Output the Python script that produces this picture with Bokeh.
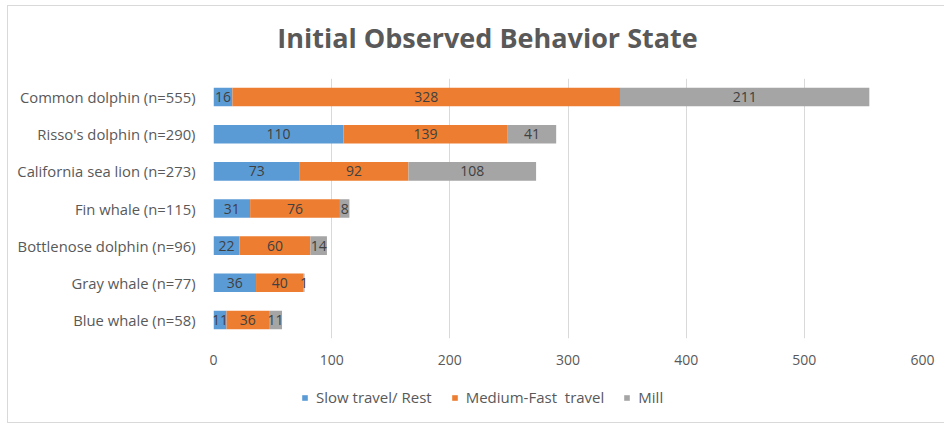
from bokeh.plotting import figure
from bokeh.layouts import column
from bokeh.models import ColumnDataSource, FactorRange, Range1d, Legend, LegendItem
from bokeh.embed import file_html
from bokeh.resources import INLINE
from bokeh.core.properties import value

title_text = "Initial Observed Behavior State"
species = ["Common dolphin (n=555)", "Risso's dolphin (n=290)", "California sea lion (n=273)",
           "Fin whale (n=115)", "Bottlenose dolphin (n=96)", "Gray whale (n=77)", "Blue whale (n=58)"]
slow_rest = [16, 110, 73, 31, 22, 36, 11]
medium_fast = [328, 139, 92, 76, 60, 40, 36]
mill = [211, 41, 108, 8, 14, 1, 11]
series_names = ["Slow travel/ Rest", "Medium-Fast  travel", "Mill"]
colors = ["#5B9BD5", "#ED7D31", "#A5A5A5"]
x_ticks = [0, 100, 200, 300, 400, 500, 600]

FONT = "Open Sans"
TXT = "#595959"

keys = ["slow", "medium", "mill"]
src = ColumnDataSource(dict(species=species, slow=slow_rest, medium=medium_fast, mill=mill))


def blank_strip(height):
    f = figure(width=937, height=height, output_backend="svg", toolbar_location=None,
               x_range=Range1d(0, 1), y_range=Range1d(0, 1), min_border=0)
    f.xaxis.visible = False
    f.yaxis.visible = False
    f.grid.grid_line_color = None
    f.outline_line_color = None
    return f


# title strip
p0 = blank_strip(72)
p0.text(x=[0.3865], y=[0.57], text=[title_text], text_align="center", text_baseline="middle",
        text_font=value(FONT), text_font_size="27px", text_font_style="bold", text_color=TXT)

# main chart
p = figure(width=937, height=298, output_backend="svg", toolbar_location=None,
           y_range=FactorRange(*reversed(species)), x_range=Range1d(0, 600),
           min_border_left=205, min_border_right=23, min_border_top=0, min_border_bottom=38)

p.hbar_stack(keys, y="species", height=0.5, color=colors, source=src, line_color=None)

# data labels centred in each segment
lab_x, lab_y, lab_t = [], [], []
for i, sp in enumerate(species):
    left = 0
    for arr in (slow_rest, medium_fast, mill):
        v = arr[i]
        lab_x.append(left + v / 2)
        lab_y.append(sp)
        lab_t.append(str(v))
        left += v
lsrc = ColumnDataSource(dict(x=lab_x, y=lab_y, t=lab_t))
p.text(x="x", y="y", text="t", source=lsrc, text_align="center", text_baseline="middle",
       text_color="#404040", text_font_size="14px", text_font=value(FONT))

p.xaxis.ticker = x_ticks
p.xaxis.axis_line_color = None
p.xaxis.major_tick_line_color = None
p.xaxis.minor_tick_line_color = None
p.xaxis.major_tick_out = 0
p.xaxis.major_label_text_color = TXT
p.xaxis.major_label_text_font = FONT
p.xaxis.major_label_text_font_size = "14px"
p.xaxis.major_label_standoff = 16

p.yaxis.axis_line_color = None
p.yaxis.major_tick_line_color = None
p.yaxis.minor_tick_line_color = None
p.yaxis.major_tick_out = 0
p.yaxis.major_label_text_color = TXT
p.yaxis.major_label_text_font = FONT
p.yaxis.major_label_text_font_size = "14.8px"
p.yaxis.major_label_standoff = 18

p.ygrid.grid_line_color = None
p.xgrid.grid_line_color = "#D9D9D9"
p.outline_line_color = None

# legend strip below the chart (its renderers map outside the visible ranges)
p2 = blank_strip(46)
leg_r = p2.hbar_stack(keys, y="species", height=0.5, color=colors, source=src, line_color=None)
legend = Legend(items=[LegendItem(label=n, renderers=[r]) for n, r in zip(series_names, leg_r)],
                orientation="horizontal", location=(88, 15), label_text_font=FONT,
                label_text_font_size="15px", label_text_color=TXT, glyph_width=7, glyph_height=7,
                spacing=19, label_standoff=8, border_line_color=None, background_fill_alpha=0,
                padding=0, margin=0)
p2.add_layout(legend, "center")

layout = column(p0, p, p2, spacing=0, margin=(5, 0, 0, 7),
                styles={"border-left": "1px solid #D9D9D9", "border-top": "1px solid #D9D9D9",
                        "border-bottom": "1px solid #D9D9D9"})

open("out.html", "w").write(file_html(layout, INLINE))
